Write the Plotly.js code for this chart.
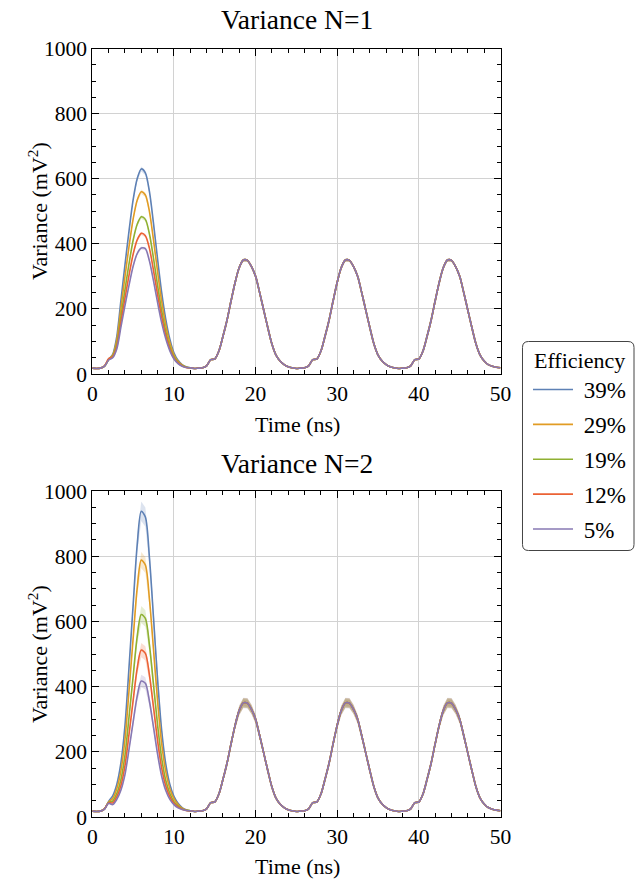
<!DOCTYPE html>
<html>
<head>
<meta charset="utf-8">
<script src="https://cdn.plot.ly/plotly-3.0.1.min.js"></script>
</head>
<body style="margin:0">
<div id="chart" style="width:641px;height:879px"></div>
<script>
// ---- data ----
const seriesNames = ["39%", "29%", "19%", "12%", "5%"];
const seriesColors = ["#5E81B5", "#E19C24", "#8FB032", "#EB6235", "#8778B3"];
const timeStep = 0.5; // ns, sampling of the traces (0 .. 50 ns)

// first pulse, t = 0 .. 11.5 ns, N = 1
const headN1_39 = [18,17,18,24,45,60,115,225,335,440,535,600,630,618,560,462,352,250,168,107,65,42,29,22];
const headN1_29 = [18,17,18,24,45,58,104,201,299,392,476,534,560,550,499,411,313,223,150,96,59,39,28,21];
const headN1_19 = [18,17,18,24,44,55,92,175,259,339,411,460,483,475,430,355,271,194,131,84,53,36,26,21];
const headN1_12 = [18,17,18,25,47,53,84,158,233,304,368,412,432,425,386,318,243,175,119,77,49,34,25,20];
const headN1_05 = [18,17,18,24,43,50,77,143,210,273,331,370,387,385,347,286,219,157,108,71,46,32,24,20];

// first pulse, t = 0 .. 11.5 ns, N = 2
const headN2_39 = [18,17,18,25,48,65,100,165,280,460,650,835,938,920,795,610,420,265,162,100,63,42,29,22];
const headN2_29 = [18,17,18,25,46,57,87,141,237,388,547,702,788,773,668,513,354,225,139,87,56,38,27,21];
const headN2_19 = [18,17,18,25,45,49,72,114,189,307,431,553,621,609,527,405,281,180,112,72,47,34,25,21];
const headN2_12 = [18,17,18,25,44,43,62,96,157,254,357,456,512,502,435,336,233,150,95,62,42,31,24,20];
const headN2_05 = [18,17,18,24,42,38,54,82,130,208,291,371,417,410,355,275,192,125,81,54,38,28,23,20];

// later pulses, t = 12 .. 50 ns (all efficiencies coincide)
const laterPulses = [19,17,18,19,25,44,46,70,115,165,225,282,327,350,349,330,300,250,196,142,92,58,40,29,22,19,
                     17,18,19,25,44,46,70,115,165,225,282,327,350,349,330,300,250,196,142,92,58,40,29,22,19,
                     17,18,19,25,44,46,70,115,165,225,282,327,350,349,330,300,250,196,142,92,58,40,29,24,21,19];

// relative spread of the shaded confidence bands
const bandN1 = [0.012, 0.012, 0.012, 0.012, 0.012];
const bandN2 = [0.032, 0.032, 0.042, 0.043, 0.046];

const xTicks = [0, 10, 20, 30, 40, 50];
const yTicks = [0, 200, 400, 600, 800, 1000];

// ---- build ----
const nPts = headN1_39.length + laterPulses.length;
const time = [];
for (let i = 0; i < nPts; i++) time.push(i * timeStep);

const N1 = [headN1_39, headN1_29, headN1_19, headN1_12, headN1_05].map(h => h.concat(laterPulses));
const N2 = [headN2_39, headN2_29, headN2_19, headN2_12, headN2_05].map(h => h.concat(laterPulses));

function hexA(hex, a) {
  const r = parseInt(hex.slice(1,3),16), g = parseInt(hex.slice(3,5),16), b = parseInt(hex.slice(5,7),16);
  return `rgba(${r},${g},${b},${a})`;
}

const traces = [];
const bandOrder = [0, 1, 3, 4, 2]; // green band drawn last (most visible, as in the reference)
function addPanel(data, bands, xa, ya, showLeg) {
  bandOrder.forEach(k => {
    const y = data[k];
    const up = y.map(v => v * (1 + bands[k]));
    const lo = y.map(v => v * (1 - bands[k]));
    traces.push({
      x: time.concat(time.slice().reverse()), y: up.concat(lo.slice().reverse()),
      xaxis: xa, yaxis: ya, mode: 'lines', fill: 'toself',
      fillcolor: hexA(seriesColors[k], 0.22), line: {width: 0, color: 'rgba(0,0,0,0)'},
      hoverinfo: 'skip', showlegend: false
    });
  });
  data.forEach((y, k) => {
    traces.push({
      x: time, y: y, xaxis: xa, yaxis: ya, mode: 'lines', name: ' ' + seriesNames[k],
      legendgroup: 'g' + k, showlegend: showLeg,
      line: {color: seriesColors[k], width: 1.6, shape: 'spline', smoothing: 0.8}
    });
  });
}
addPanel(N1, bandN1, 'x', 'y', true);
addPanel(N2, bandN2, 'x2', 'y2', false);

const FONT = "Liberation Serif";
const W = 641, H = 879;
const px = x => x / W, py = y => 1 - y / H;

function xAxis(anchor, dom) {
  return {
    domain: dom, anchor: anchor, range: [0, 50], tickvals: xTicks,
    showline: true, mirror: 'allticks', linecolor: '#000', linewidth: 1,
    ticks: 'inside', ticklen: 7, tickcolor: '#000', tickwidth: 1,
    minor: {ticks: 'inside', ticklen: 4, dtick: 2, tickcolor: '#000', showgrid: false},
    showgrid: true, gridcolor: '#d2d2d2', gridwidth: 1, zeroline: false,
    tickfont: {family: FONT, size: 21.5, color: '#000'}, fixedrange: true
  };
}
function yAxis(anchor, dom) {
  return {
    domain: dom, anchor: anchor, range: [0, 1000], tickvals: yTicks,
    showline: true, mirror: 'allticks', linecolor: '#000', linewidth: 1,
    ticks: 'inside', ticklen: 7, tickcolor: '#000', tickwidth: 1,
    minor: {ticks: 'inside', ticklen: 4, dtick: 50, tickcolor: '#000', showgrid: false},
    showgrid: true, gridcolor: '#d2d2d2', gridwidth: 1, zeroline: false,
    tickfont: {family: FONT, size: 21.5, color: '#000'}, fixedrange: true
  };
}

const xDom = [px(92.3), px(500.5)];
const yDom1 = [py(374), py(48.5)];
const yDom2 = [py(817), py(491)];

const annFont = s => ({family: FONT, size: s, color: '#000'});
const annotations = [
  {text: 'Variance N=1', x: px(297), y: py(20), font: annFont(27.5)},
  {text: 'Variance N=2', x: px(297), y: py(463), font: annFont(27.5)},
  {text: 'Time (ns)', x: px(297), y: py(424), font: annFont(22)},
  {text: 'Time (ns)', x: px(297), y: py(866), font: annFont(22)},
  {text: 'Variance (mV<sup>2</sup>)', x: px(38), y: py(211), font: annFont(22), textangle: -90},
  {text: 'Variance (mV<sup>2</sup>)', x: px(38), y: py(654), font: annFont(22), textangle: -90},
  {text: 'Efficiency', x: px(532), y: py(360), xanchor: 'left', font: annFont(22)}
].map(a => Object.assign({xref: 'paper', yref: 'paper', showarrow: false, xanchor: 'center', yanchor: 'middle'}, a));

// rounded legend frame
const L = 522.5, T = 341.5, R = 634, B = 550.5, rr = 6;
const legendPath = `M ${L+rr} ${T} H ${R-rr} Q ${R} ${T} ${R} ${T+rr} V ${B-rr} Q ${R} ${B} ${R-rr} ${B} H ${L+rr} Q ${L} ${B} ${L} ${B-rr} V ${T+rr} Q ${L} ${T} ${L+rr} ${T} Z`;
const legendPathPaper = legendPath.replace(/(-?\d+(?:\.\d+)?) (-?\d+(?:\.\d+)?)/g, (m, a, b) => `${(a / W).toFixed(5)} ${(1 - b / H).toFixed(5)}`)
  .replace(/H (\d+(?:\.\d+)?)/g, (m, a) => `H ${(a / W).toFixed(5)}`)
  .replace(/V (\d+(?:\.\d+)?)/g, (m, a) => `V ${(1 - a / H).toFixed(5)}`);

const layout = {
  width: W, height: H, margin: {l: 0, r: 0, t: 0, b: 0},
  paper_bgcolor: '#fff', plot_bgcolor: '#fff',
  font: {family: FONT},
  xaxis: xAxis('y', xDom), yaxis: yAxis('x', yDom1),
  xaxis2: xAxis('y2', xDom), yaxis2: yAxis('x2', yDom2),
  annotations: annotations,
  shapes: [{type: 'path', xref: 'paper', yref: 'paper', path: legendPathPaper,
            line: {color: '#444', width: 1}, fillcolor: 'rgba(0,0,0,0)'}],
  showlegend: true,
  legend: {
    x: px(528), y: py(368), xanchor: 'left', yanchor: 'top',
    bgcolor: 'rgba(0,0,0,0)', borderwidth: 0,
    font: {family: FONT, size: 23, color: '#000'},
    traceorder: 'grouped', tracegroupgap: 2, itemwidth: 40
  }
};

Plotly.newPlot('chart', traces, layout, {displayModeBar: false});
</script>
</body>
</html>
